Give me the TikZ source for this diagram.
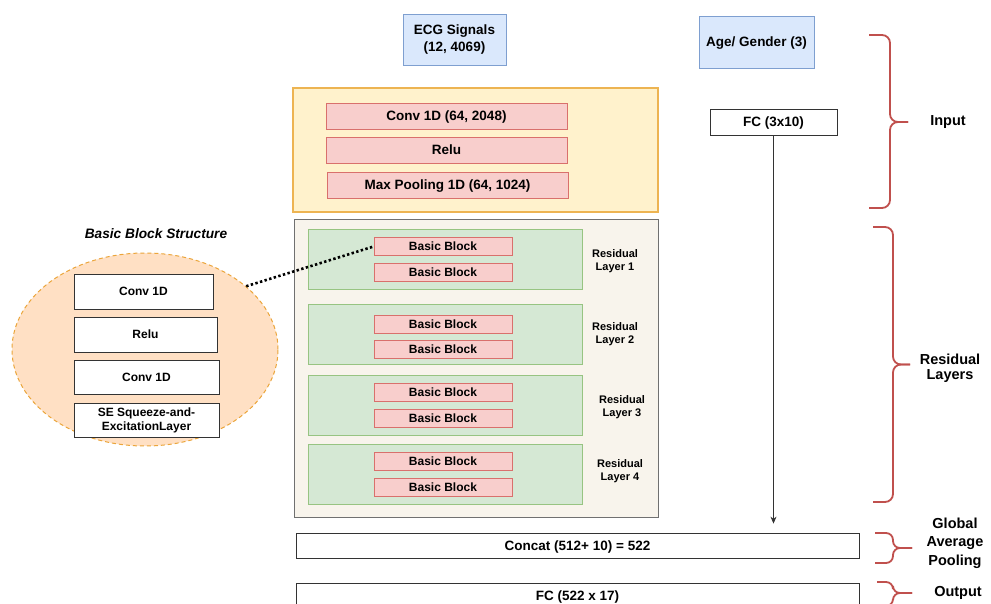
\documentclass[tikz,border=0pt]{standalone}
\usepackage{fontspec}
\setmainfont{Liberation Sans}
\usetikzlibrary{arrows.meta, shapes.geometric, positioning}
\definecolor{sigFill}{HTML}{DAE8FC}
\definecolor{sigDraw}{HTML}{7E9FD0}
\definecolor{stemFill}{HTML}{FFF2CC}
\definecolor{stemDraw}{HTML}{EDB452}
\definecolor{opFill}{HTML}{F8CECC}
\definecolor{opDraw}{HTML}{D9706C}
\definecolor{layerFill}{HTML}{D5E8D4}
\definecolor{layerDraw}{HTML}{97C482}
\definecolor{resFill}{HTML}{F8F4EC}
\definecolor{resDraw}{HTML}{707070}
\definecolor{blockFill}{HTML}{FFE0C4}
\definecolor{blockDraw}{HTML}{EBA53A}
\definecolor{braceColor}{HTML}{C0504D}
\definecolor{lineGray}{HTML}{333333}

\begin{document}
\begin{tikzpicture}[
    x=1pt, y=-1pt,
    every node/.style={font=\bfseries\fontsize{13.5}{17}\selectfont, text=black},
    wh/.style 2 args={minimum width=#1pt, minimum height=#2pt},
    box/.style={draw=lineGray, fill=white, rectangle, inner sep=0pt, align=center, line width=0.8pt},
    signal/.style={box, fill=sigFill, draw=sigDraw},
    stem/.style={box, fill=stemFill, draw=stemDraw, line width=1.2pt},
    op/.style={box, fill=opFill, draw=opDraw, wh={241}{26}, text depth=0pt},
    res/.style={box, fill=resFill, draw=resDraw},
    layer/.style={box, fill=layerFill, draw=layerDraw, wh={274}{60}},
    block/.style={op, wh={138}{18}, font=\bfseries\fontsize{12}{14}\selectfont},
    small/.style={align=center, font=\bfseries\fontsize{11}{13.5}\selectfont},
    part/.style={align=center, font=\bfseries\fontsize{14.5}{15}\selectfont},
    bracket/.style={draw=braceColor, line width=1.8pt, rounded corners=8pt},
    arrow/.style={-{Stealth[length=7pt, width=6pt]}, lineGray, line width=0.8pt},
    linkdot/.style={line width=2.6pt, dash pattern=on 2.4pt off 2.4pt, black}
]
    \fill[white] (0,0) rectangle (991,604);
    \useasboundingbox (0,0) rectangle (991,604);

    % inputs
    \node[signal, wh={103}{51}] (ecg) at (454.5,39.5) {ECG Signals\\(12, 4069)};
    \node[signal, wh={115}{52}, text depth=0pt] (age) at (756.5,42) {Age/ Gender (3)};

    % stem
    \node[stem, wh={365}{124}] (stembox) at (475.5,150) {};
    \node[op] (conv) at (446.5,116) {Conv 1D (64, 2048)};
    \node[op] (relu) at (446.5,150) {Relu};
    \node[op] (pool) at (447.5,185) {Max Pooling 1D (64, 1024)};
    \node[box, wh={127}{26}, text depth=0pt] (fc) at (773.5,122) {FC (3x10)};

    % residual layers
    \node[res, wh={364}{298}] (resbox) at (476,368) {};
    \foreach \i/\yl/\ya/\yb/\lx/\ly in {1/259/246.5/272/615/261,
        2/334/324.5/349.5/615/334, 3/405/392/418/622/407, 4/474/461/487/620/471} {
        \node[layer] (layer\i) at (445,\yl) {};
        \node[block] (bb\i-a) at (443,\ya) {Basic Block};
        \node[block] (bb\i-b) at (443,\yb) {Basic Block};
        \node[small] (lab\i) at (\lx,\ly) {Residual\\Layer \i};
    }

    % head
    \node[box, wh={563}{25}, text depth=0pt] (concat) at (577.5,545.5) {Concat (512+ 10) = 522};
    \node[box, wh={563}{25}, text depth=0pt] (fcout) at (577.5,595.5) {FC (522 x 17)};
    \draw[arrow, shorten >=9pt] (fc.south) -- (fc.south |- concat.north);

    % basic block structure
    \node[font=\bfseries\itshape\fontsize{13.7}{15}\selectfont] (bbtitle) at (156,234) {Basic Block Structure};
    \node[ellipse, draw=blockDraw, fill=blockFill, line width=1pt, dash pattern=on 4pt off 3pt,
        minimum width=266pt, minimum height=193pt, inner sep=0pt] (bbs) at (145,349.5) {};
    \node[box, wh={139}{35}, font=\bfseries\fontsize{12}{14}\selectfont] (bconv1) at (143.5,291.5) {Conv 1D};
    \node[box, wh={143}{35}, font=\bfseries\fontsize{12}{14}\selectfont] (brelu) at (145.5,334.5) {Relu};
    \node[box, wh={145}{34}, font=\bfseries\fontsize{12}{14}\selectfont] (bconv2) at (146.5,377) {Conv 1D};
    \node[box, wh={145}{34}, font=\bfseries\fontsize{12}{14}\selectfont] (bse) at (146.5,420) {SE Squeeze-and-\\ExcitationLayer};
    \draw[linkdot] (bbs.32) -- (bb1-a.west);

    % braces
    \draw[bracket] (869,35) -- (890,35) -- (890,122) -- (908,122);
    \draw[bracket] (869,208) -- (890,208) -- (890,122) -- (908,122);
    \node[part] (inlab) at (948,122) {Input};

    \draw[bracket] (873,227) -- (893,227) -- (893,364.5) -- (910,364.5);
    \draw[bracket] (873,502) -- (893,502) -- (893,364.5) -- (910,364.5);
    \node[part] (reslab) at (950,368) {Residual\\Layers};

    \draw[bracket, rounded corners=7pt] (875,533) -- (893,533) -- (893,548) -- (912,548);
    \draw[bracket, rounded corners=7pt] (875,563) -- (893,563) -- (893,548) -- (912,548);
    \node[part, font=\bfseries\fontsize{14.5}{18.5}\selectfont] (gaplab) at (955,543) {Global\\Average\\Pooling};

    \draw[bracket, rounded corners=7pt] (877,582) -- (893,582) -- (893,593) -- (912,593);
    \draw[bracket, rounded corners=7pt] (877,606) -- (893,606) -- (893,593) -- (912,593);
    \node[part] (outlab) at (958,593) {Output};
\end{tikzpicture}
\end{document}
